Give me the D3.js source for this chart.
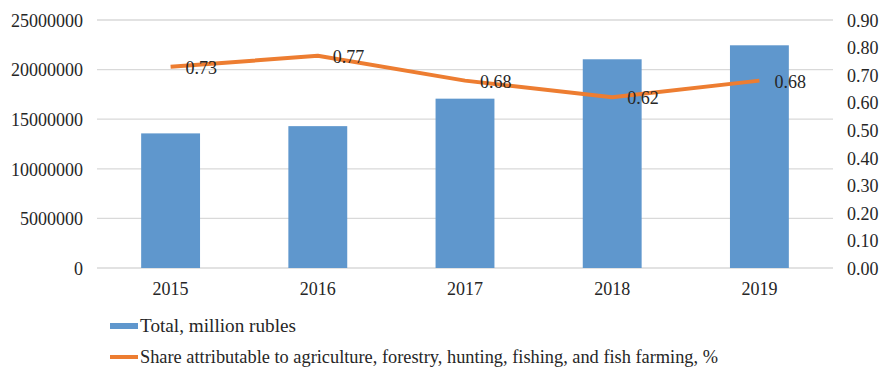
<!DOCTYPE html>
<html>
<head>
<meta charset="utf-8">
<script src="https://cdn.jsdelivr.net/npm/d3@7"></script>
<style>
  html, body { margin: 0; padding: 0; background: #fff; }
  svg text { font-family: "Times New Roman", "Liberation Serif", Tinos, "Nimbus Roman", serif; fill: #262626; }
</style>
</head>
<body>
<svg id="chart" width="885" height="368"></svg>
<script>
// Years on the category axis
const years = ["2015", "2016", "2017", "2018", "2019"];
// Total, million rubles
const totals = [13570000, 14300000, 17070000, 21040000, 22450000];
// Share attributable to agriculture, forestry, hunting, fishing and fish farming, %
const shares = [0.73, 0.77, 0.68, 0.62, 0.68];
// Axis tick values
const leftTicks = [0, 5000000, 10000000, 15000000, 20000000, 25000000];
const rightTicks = [0, 0.1, 0.2, 0.3, 0.4, 0.5, 0.6, 0.7, 0.8, 0.9];
const legendLabels = ["Total, million rubles",
  "Share attributable to agriculture, forestry, hunting, fishing, and fish farming, %"];

const svg = d3.select("#chart");
const plot = { left: 97, right: 833, top: 20, bottom: 268 };

const x = d3.scaleBand().domain(years).range([plot.left, plot.right]).paddingInner(0.6).paddingOuter(0.3);
const yL = d3.scaleLinear().domain([0, 25000000]).range([plot.bottom, plot.top]);
const yR = d3.scaleLinear().domain([0, 0.9]).range([plot.bottom, plot.top]);

// Horizontal gridlines on the left axis ticks
svg.append("g").selectAll("line").data(leftTicks).join("line")
  .attr("x1", plot.left).attr("x2", plot.right)
  .attr("y1", d => yL(d)).attr("y2", d => yL(d))
  .attr("stroke", "#d9d9d9").attr("stroke-width", 1.3);

// Left axis
const axL = svg.append("g").attr("transform", `translate(${plot.left - 14},0)`)
  .call(d3.axisLeft(yL).tickValues(leftTicks).tickSize(0).tickPadding(0).tickFormat(d3.format("d")));
axL.select(".domain").remove();
axL.selectAll("text").style("font-size", "18px").attr("dy", "0.35em");

// Right axis
const axR = svg.append("g").attr("transform", `translate(${plot.right + 14},0)`)
  .call(d3.axisRight(yR).tickValues(rightTicks).tickSize(0).tickPadding(0).tickFormat(d3.format(".2f")));
axR.select(".domain").remove();
axR.selectAll("text").style("font-size", "18px").attr("dy", "0.35em");

// Category axis
const axX = svg.append("g").attr("transform", `translate(0,${plot.bottom})`)
  .call(d3.axisBottom(x).tickSize(0).tickPadding(14));
axX.select(".domain").remove();
axX.selectAll("text").style("font-size", "18px");

// Bars
svg.append("g").selectAll("rect").data(years).join("rect")
  .attr("x", d => x(d))
  .attr("width", x.bandwidth())
  .attr("y", (d, i) => yL(totals[i]))
  .attr("height", (d, i) => yL(0) - yL(totals[i]))
  .attr("fill", "#5f97cd");

// Share line
const cx = d => x(d) + x.bandwidth() / 2;
const line = d3.line().x((d, i) => cx(years[i])).y(d => yR(d));
svg.append("path").datum(shares)
  .attr("d", line)
  .attr("fill", "none")
  .attr("stroke", "#ed7d31")
  .attr("stroke-width", 4)
  .attr("stroke-linejoin", "round");

// Value labels
svg.append("g").selectAll("text").data(shares).join("text")
  .attr("x", (d, i) => cx(years[i]) + 15)
  .attr("y", d => yR(d))
  .attr("dy", "0.4em")
  .style("font-size", "18px")
  .text(d => d.toFixed(2));

// Legend
const lg = svg.append("g");
lg.append("rect").attr("x", 110).attr("y", 323).attr("width", 28).attr("height", 6).attr("fill", "#5f97cd");
lg.append("text").attr("x", 140).attr("y", 332).style("font-size", "18px")
  .attr("textLength", 156).attr("lengthAdjust", "spacingAndGlyphs").text(legendLabels[0]);
lg.append("line").attr("x1", 110).attr("x2", 138).attr("y1", 357).attr("y2", 357)
  .attr("stroke", "#ed7d31").attr("stroke-width", 4);
lg.append("text").attr("x", 140).attr("y", 363).style("font-size", "18px")
  .attr("textLength", 578).attr("lengthAdjust", "spacingAndGlyphs").text(legendLabels[1]);
</script>
</body>
</html>
